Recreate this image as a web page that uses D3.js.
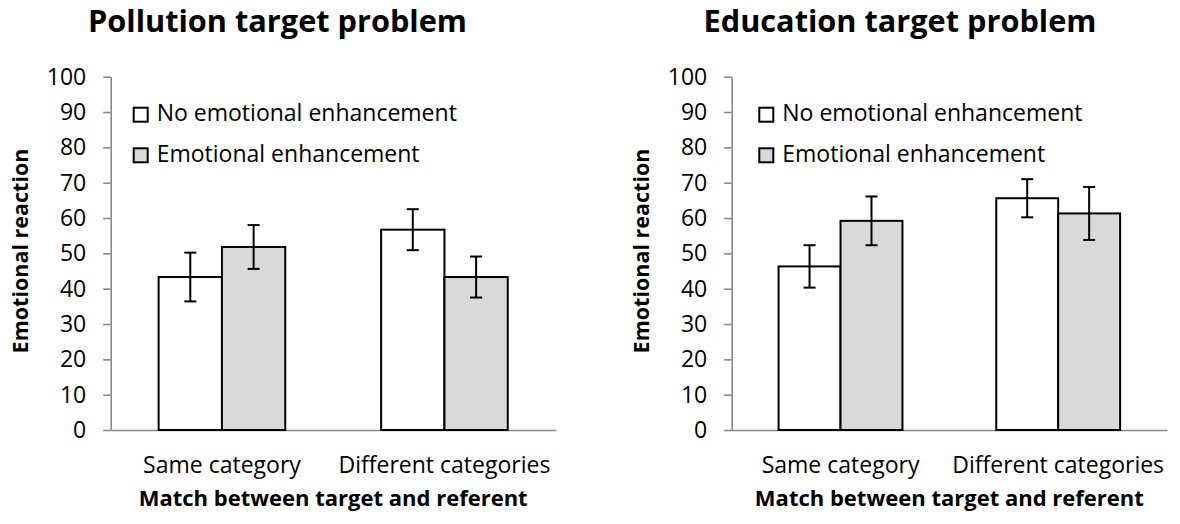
<!DOCTYPE html>
<html>
<head>
<meta charset="utf-8">
<script src="https://cdn.jsdelivr.net/npm/d3@7"></script>
<style>
  body { margin: 0; background: #fff; }
  svg { font-family: "Open Sans", sans-serif; }
</style>
</head>
<body>
<svg id="chart"></svg>
<script>
// data
const categories = ["Same category", "Different categories"];
const series = ["No emotional enhancement", "Emotional enhancement"];
const yTicks = [0, 10, 20, 30, 40, 50, 60, 70, 80, 90, 100];

const pollutionNoEnh = [43.3, 56.7];
const pollutionEnh = [51.8, 43.3];
const pollutionNoEnhErr = [6.9, 5.8];
const pollutionEnhErr = [6.2, 5.8];

const educationNoEnh = [46.3, 65.6];
const educationEnh = [59.2, 61.3];
const educationNoEnhErr = [6.0, 5.4];
const educationEnhErr = [6.9, 7.5];

const fills = ["#ffffff", "#d9d9d9"];
const axisColor = "#898989";

const svg = d3.select("#chart").attr("width", 1180).attr("height", 524);

function drawPanel(cfg) {
    const y = d3.scaleLinear().domain([0, 100]).range([430, 76.7]);
    const x0 = d3.scaleBand().domain(categories).range([cfg.left, cfg.right]).padding(0);
    const x1 = d3.scaleBand().domain(series).range([0, x0.bandwidth()])
        .paddingInner(0).paddingOuter(0.757);

    const g = svg.append("g");

    // title
    g.append("text")
        .attr("x", cfg.titleX).attr("y", 32)
        .attr("text-anchor", "middle")
        .style("font-size", "30.7px").style("font-weight", "bold")
        .text(cfg.title);

    // y axis
    const yAxis = g.append("g")
        .attr("transform", `translate(${cfg.left},0)`)
        .call(d3.axisLeft(y).tickValues(yTicks).tickSize(7.5).tickSizeOuter(0).tickPadding(17));
    yAxis.selectAll("path, line").attr("stroke", axisColor).attr("stroke-width", 1.6);
    yAxis.selectAll("text").attr("fill", "#000").style("font-size", "23px")
        .style("font-family", "'Open Sans', sans-serif");

    // x axis
    const xAxis = g.append("g")
        .attr("transform", "translate(0,430)")
        .call(d3.axisBottom(x0).tickSize(0).tickPadding(27));
    xAxis.select(".domain").attr("stroke", axisColor).attr("stroke-width", 1.6);
    xAxis.selectAll("text").attr("fill", "#000").style("font-size", "23px")
        .style("font-family", "'Open Sans', sans-serif");

    // axis titles
    g.append("text")
        .attr("x", (cfg.left + cfg.right) / 2).attr("y", 506)
        .attr("text-anchor", "middle")
        .style("font-size", "22px").style("font-weight", "bold")
        .text("Match between target and referent");
    g.append("text")
        .attr("transform", `translate(${cfg.left - 82.4},251) rotate(-90)`)
        .attr("text-anchor", "middle")
        .style("font-size", "21.5px").style("font-weight", "bold")
        .text("Emotional reaction");

    // bars + error bars
    const rows = [];
    categories.forEach((c, i) => {
        rows.push({cat: c, s: series[0], v: cfg.noEnh[i], e: cfg.noEnhErr[i], k: 0});
        rows.push({cat: c, s: series[1], v: cfg.enh[i], e: cfg.enhErr[i], k: 1});
    });

    g.selectAll("rect.bar").data(rows).join("rect")
        .attr("class", "bar")
        .attr("x", d => x0(d.cat) + x1(d.s))
        .attr("y", d => y(d.v))
        .attr("width", x1.bandwidth())
        .attr("height", d => y(0) - y(d.v))
        .attr("fill", d => fills[d.k])
        .attr("stroke", "#000")
        .attr("stroke-width", 2);

    const cap = 6;
    const err = g.selectAll("g.err").data(rows).join("g").attr("class", "err")
        .attr("transform", d => `translate(${x0(d.cat) + x1(d.s) + x1.bandwidth() / 2},0)`);
    err.append("line")
        .attr("y1", d => y(d.v - d.e)).attr("y2", d => y(d.v + d.e));
    err.append("line")
        .attr("x1", -cap).attr("x2", cap)
        .attr("y1", d => y(d.v + d.e)).attr("y2", d => y(d.v + d.e));
    err.append("line")
        .attr("x1", -cap).attr("x2", cap)
        .attr("y1", d => y(d.v - d.e)).attr("y2", d => y(d.v - d.e));
    err.selectAll("line").attr("stroke", "#000").attr("stroke-width", 2);

    // legend
    const leg = g.selectAll("g.leg").data(series).join("g").attr("class", "leg")
        .attr("transform", (d, i) => `translate(${cfg.legX},${i === 0 ? 107.7 : 148.3})`);
    leg.append("rect")
        .attr("width", 14).attr("height", 14)
        .attr("fill", (d, i) => fills[i])
        .attr("stroke", "#000").attr("stroke-width", 2);
    leg.append("text")
        .attr("x", 23).attr("y", 13.5)
        .style("font-size", "23px")
        .text(d => d);
}

drawPanel({
    title: "Pollution target problem", titleX: 277.5,
    left: 110.7, right: 555.7, legX: 133.7,
    noEnh: pollutionNoEnh, enh: pollutionEnh,
    noEnhErr: pollutionNoEnhErr, enhErr: pollutionEnhErr
});
drawPanel({
    title: "Education target problem", titleX: 900,
    left: 731.7, right: 1167, legX: 759.3,
    noEnh: educationNoEnh, enh: educationEnh,
    noEnhErr: educationNoEnhErr, enhErr: educationEnhErr
});
</script>
</body>
</html>
